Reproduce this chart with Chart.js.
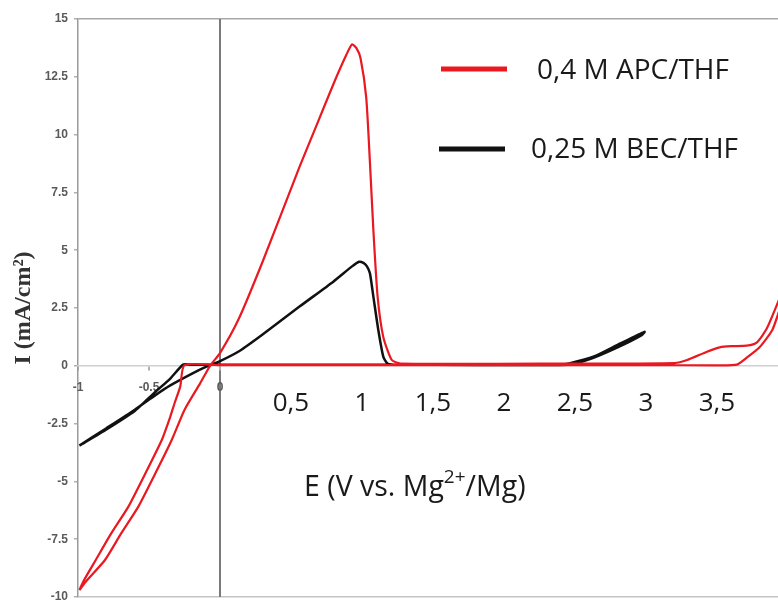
<!DOCTYPE html>
<html>
<head>
<meta charset="utf-8">
<script src="https://cdn.jsdelivr.net/npm/chart.js@4.4.1/dist/chart.umd.min.js"></script>
<style>
  html, body { margin: 0; padding: 0; background: #fff; }
  #wrap { width: 778px; height: 600px; }
</style>
</head>
<body>
<div id="wrap"><canvas id="cvChart" width="778" height="600"></canvas></div>
<script>
// 0,4 M APC/THF - one full cycle (anodic sweep, then back)
const apcPotential = [-0.99, -0.94, -0.81, -0.695, -0.575, -0.455, -0.34, -0.25, -0.14, -0.07, 0, 0.13, 0.3, 0.56, 0.68, 0.8, 0.89, 0.93, 0.96, 0.99, 1.03, 1.056, 1.08, 1.11, 1.15, 1.21, 1.27, 2.5, 3.2, 3.29, 3.43, 3.52, 3.6, 3.71, 3.78, 3.85, 3.92, 4.0,
    4.0, 3.94, 3.89, 3.8, 3.71, 3.64, 3.5, 3.0, 2.0, 1.0, 0, -0.25, -0.28, -0.32, -0.35, -0.41, -0.525, -0.645, -0.765, -0.875, -0.96, -0.99];
const apcCurrent = [-9.7, -9.3, -8.4, -7.24, -6.09, -4.65, -3.21, -1.91, -0.76, 0, 0.55, 2.0, 4.5, 8.6, 10.4, 12.2, 13.45, 13.9, 13.75, 13.3, 11.6, 8.8, 5.9, 3.0, 1.25, 0.25, 0.1, 0.1, 0.12, 0.25, 0.61, 0.8, 0.85, 0.87, 1.0, 1.6, 2.6, 3.8,
    3.4, 2.4, 1.55, 0.8, 0.35, 0.05, 0.02, 0.03, 0.03, 0.03, 0.03, 0.03, -0.9, -1.62, -2.2, -3.21, -4.65, -6.09, -7.24, -8.4, -9.3, -9.7];

// 0,25 M BEC/THF
const becPotential = [-0.99, -0.8, -0.6, -0.45, -0.35, -0.2, -0.1, 0, 0.14, 0.3, 0.56, 0.8, 0.93, 0.98, 1.01, 1.035, 1.056, 1.08, 1.115, 1.15, 1.18, 1.25, 2.4, 2.46, 2.63, 2.82, 2.99,
    2.97, 2.8, 2.6, 2.45, 1.2, 0, -0.21, -0.26, -0.35, -0.45, -0.52, -0.6, -0.8, -0.99];
const becCurrent = [-3.45, -2.7, -1.9, -1.25, -0.85, -0.35, -0.05, 0.2, 0.65, 1.35, 2.56, 3.65, 4.3, 4.5, 4.45, 4.3, 4.0, 3.0, 1.55, 0.4, 0.1, 0.05, 0.05, 0.1, 0.39, 0.97, 1.47,
    1.33, 0.8, 0.28, 0.05, 0.05, 0.05, 0.05, 0.05, -0.55, -1.1, -1.5, -1.95, -2.75, -3.45];

const seriesNames = ['0,4 M APC/THF', '0,25 M BEC/THF'];

const yTickValues = [-10, -7.5, -5, -2.5, 0, 2.5, 5, 7.5, 10, 12.5, 15];
const yTickLabels = ['-10', '-7.5', '-5', '-2.5', '0', '2.5', '5', '7.5', '10', '12.5', '15'];
const xSmallTicks = [-1, -0.5, 0];
const xSmallLabels = ['-1', '-0.5', '0'];
const xBigTicks = [0.5, 1, 1.5, 2, 2.5, 3, 3.5];
const xBigLabels = ['0,5', '1', '1,5', '2', '2,5', '3', '3,5'];

function toPoints(xs, ys) {
    return xs.map((x, i) => ({ x: x, y: ys[i] }));
}

function labelFor(values, labels) {
    return function (v) {
        const i = values.indexOf(v);
        return i >= 0 ? labels[i] : '';
    };
}

// legend drawn as in the figure: short thick line, then the name
const sketchLegend = {
    id: 'sketchLegend',
    afterDraw(chart, args, opts) {
        const ctx = chart.ctx;
        ctx.save();
        chart.data.datasets.forEach((ds, i) => {
            const it = opts.items[i];
            ctx.strokeStyle = ds.borderColor;
            ctx.lineWidth = 5;
            ctx.beginPath();
            ctx.moveTo(it.x1, it.y);
            ctx.lineTo(it.x2, it.y);
            ctx.stroke();
            ctx.fillStyle = '#1a1a1a';
            ctx.font = opts.size + 'px ' + opts.family;
            ctx.textBaseline = 'alphabetic';
            ctx.fillText(ds.label, it.tx, it.ty);
        });
        ctx.restore();
    }
};

// x caption with the superscript
const axisCaption = {
    id: 'axisCaption',
    afterDraw(chart, args, opts) {
        const ctx = chart.ctx;
        ctx.save();
        ctx.fillStyle = '#1a1a1a';
        ctx.textBaseline = 'alphabetic';
        let x = opts.x;
        opts.parts.forEach(p => {
            ctx.font = (p.sup ? opts.supSize : opts.size) + 'px ' + opts.family;
            ctx.fillText(p.text, x, opts.y - (p.sup ? opts.supRaise : 0));
            x += ctx.measureText(p.text).width;
        });
        ctx.restore();
    }
};

const ctx = document.getElementById('cvChart').getContext('2d');

const cvChart = new Chart(ctx, {
    type: 'scatter',
    data: {
        datasets: [{
            label: seriesNames[0],
            data: toPoints(apcPotential, apcCurrent),
            showLine: true,
            borderColor: 'rgb(234, 24, 32)',
            borderWidth: 2.2,
            pointRadius: 0,
            tension: 0.2,
            fill: false
        }, {
            label: seriesNames[1],
            data: toPoints(becPotential, becCurrent),
            showLine: true,
            borderColor: '#111111',
            borderWidth: 2.5,
            pointRadius: 0,
            tension: 0.2,
            fill: false
        }]
    },
    options: {
        responsive: false,
        animation: false,
        layout: { padding: { top: 19, bottom: 3, left: 0, right: 0 } },
        plugins: {
            legend: { display: false },
            tooltip: { enabled: false },
            sketchLegend: {
                family: '"Open Sans"',
                size: 28,
                items: [
                    { x1: 441, x2: 507, y: 69, tx: 537, ty: 79 },
                    { x1: 439, x2: 505, y: 149, tx: 531, ty: 158 }
                ]
            },
            axisCaption: {
                family: '"Open Sans"',
                size: 28.5,
                supSize: 19,
                supRaise: 13,
                x: 304,
                y: 496,
                parts: [
                    { text: 'E (V vs. Mg' },
                    { text: '2+', sup: true },
                    { text: '/Mg)' }
                ]
            }
        },
        scales: {
            y: {
                type: 'linear',
                min: -10,
                max: 15,
                afterBuildTicks: s => { s.ticks = yTickValues.map(v => ({ value: v })); },
                afterFit: s => { s.width = 78; s.paddingTop = 0; s.paddingBottom = 0; },
                ticks: {
                    callback: labelFor(yTickValues, yTickLabels),
                    font: { family: '"Liberation Sans"', size: 12, weight: 'bold' },
                    color: '#5a5a5a',
                    padding: 6
                },
                grid: {
                    color: c => {
                        if (!c.tick) return 'rgba(0,0,0,0)';
                        if (c.tick.value === 15) return '#a8a8a8';
                        if (c.tick.value === -10) return '#c4c4c4';
                        return 'rgba(0,0,0,0)';
                    },
                    lineWidth: 1.5,
                    tickColor: '#b0b0b0',
                    tickLength: 4
                },
                border: { color: '#9a9a9a', width: 1.5 },
                title: {
                    display: true,
                    text: 'I (mA/cm²)',
                    font: { family: '"Liberation Serif"', size: 24, weight: 'bold' },
                    color: '#333',
                    padding: { top: 9, bottom: 0 }
                }
            },
            x: {
                type: 'linear',
                min: -1,
                max: 3.93,
                position: { y: 0 },
                afterBuildTicks: s => { s.ticks = xSmallTicks.map(v => ({ value: v })); },
                afterFit: s => { s.height = 0; },
                ticks: {
                    callback: labelFor(xSmallTicks, xSmallLabels),
                    font: { family: '"Liberation Sans"', size: 12, weight: 'bold' },
                    color: '#5a5a5a',
                    padding: 11,
                    maxRotation: 0,
                    autoSkip: false
                },
                grid: {
                    color: c => (c.tick && c.tick.value === 0) ? '#7a7a7a' : 'rgba(0,0,0,0)',
                    lineWidth: 2,
                    tickColor: '#b0b0b0',
                    tickLength: 4
                },
                border: { color: '#cfcfcf', width: 1.5 }
            },
            x2: {
                type: 'linear',
                axis: 'x',
                min: -1,
                max: 3.93,
                position: { y: 0 },
                afterBuildTicks: s => { s.ticks = xBigTicks.map(v => ({ value: v })); },
                afterFit: s => { s.height = 0; },
                ticks: {
                    callback: labelFor(xBigTicks, xBigLabels),
                    font: { family: '"Open Sans"', size: 26 },
                    color: '#1a1a1a',
                    padding: 14,
                    maxRotation: 0,
                    autoSkip: false
                },
                grid: { display: false },
                border: { display: false }
            }
        }
    },
    plugins: [sketchLegend, axisCaption]
});
</script>
</body>
</html>
